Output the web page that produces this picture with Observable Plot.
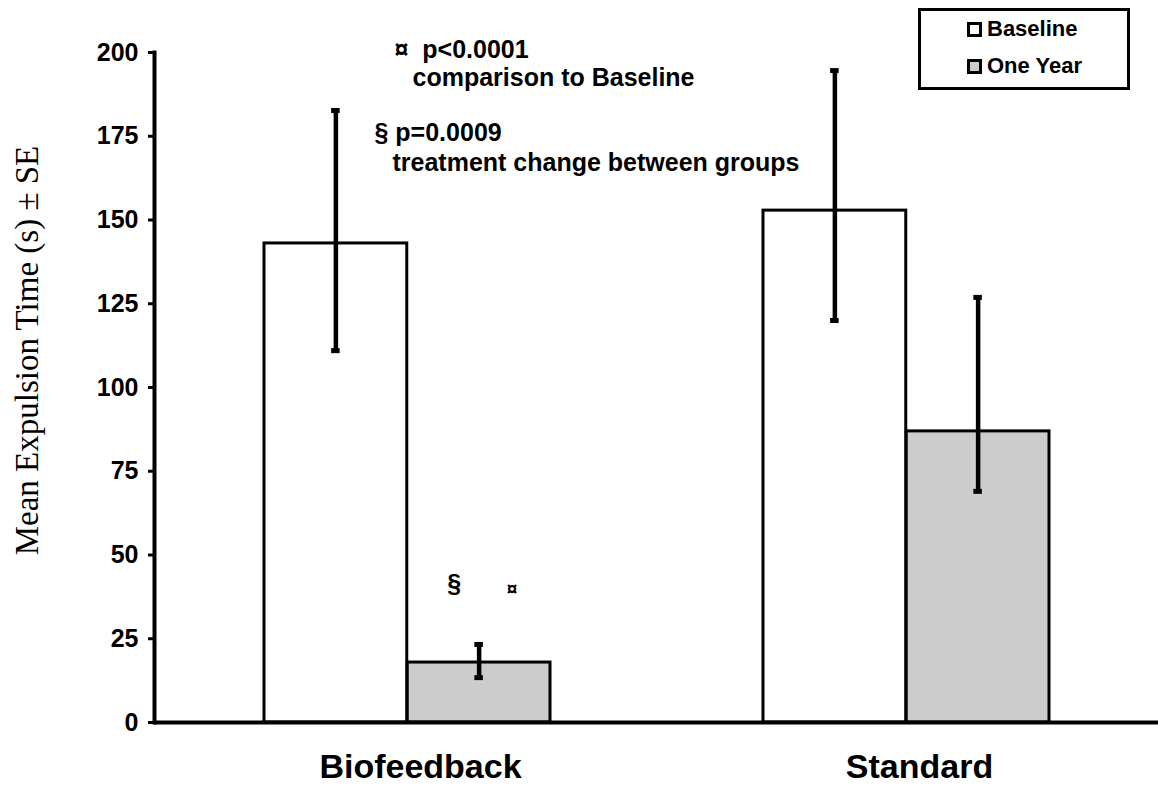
<!DOCTYPE html>
<html>
<head>
<meta charset="utf-8">
<script src="https://cdn.jsdelivr.net/npm/d3@7"></script>
<script src="https://cdn.jsdelivr.net/npm/@observablehq/plot@0.6"></script>
<style>
  html, body { margin: 0; padding: 0; background: #fff; }
  #wrap { position: relative; width: 1158px; height: 786px; font-family: "Liberation Sans", Arial, sans-serif; }
  #legend { position: absolute; left: 918px; top: 8px; width: 212px; height: 82px; box-sizing: border-box; border: 3px solid #000; background: #fff; }
  .item { position: absolute; left: 46px; height: 24px; display: flex; align-items: center; font-weight: bold; font-size: 22px; color: #000; }
  .sw { width: 15px; height: 15px; box-sizing: border-box; border: 3px solid #000; margin-right: 5px; }
</style>
</head>
<body>
<div id="wrap">
  <div id="chart"></div>
  <div id="legend"></div>
</div>
<script>
// ---- data ----
const groups = ["Biofeedback", "Standard"];
const series = ["Baseline", "One Year"];
const baselineMean = [143.0, 152.8];
const baselineLo = [111.0, 120.0];
const baselineHi = [182.7, 194.6];
const oneYearMean = [17.9, 86.9];
const oneYearLo = [13.4, 69.0];
const oneYearHi = [23.3, 126.9];
const yTicks = [0, 25, 50, 75, 100, 125, 150, 175, 200];
const yLabel = "Mean Expulsion Time (s) \u00b1 SE";
const noteLines = ["\u00a4\u00a0 p<0.0001", "comparison to Baseline", "\u00a7 p=0.0009", "treatment change between groups"];
const sigMarks = ["\u00a7", "\u00a4"];
const seriesColors = ["#ffffff", "#cccccc"];

// ---- table ----
const rows = [];
groups.forEach((g, i) => {
  rows.push({group: g, series: series[0], value: baselineMean[i], lo: baselineLo[i], hi: baselineHi[i]});
  rows.push({group: g, series: series[1], value: oneYearMean[i], lo: oneYearLo[i], hi: oneYearHi[i]});
});
const base = rows.filter(d => d.series === series[0]);
const year = rows.filter(d => d.series === series[1]);

const W = 1158, H = 786;
const mL = 154, mR = 0, mT = 52, mB = 64;
const pIn = 0.427, pOut = 0.2176;
const bw = d3.scaleBand().domain(groups).range([mL, W - mR]).paddingInner(pIn).paddingOuter(pOut).bandwidth();
const half = bw / 2, q = bw / 4, capIn = (bw - 9) / 2;
const font = "'Liberation Sans', Arial, sans-serif";

const plot = Plot.plot({
  width: W, height: H,
  marginLeft: mL, marginRight: mR, marginTop: mT, marginBottom: mB,
  style: {fontFamily: font, fontWeight: "bold", color: "#000", background: "#fff", overflow: "visible"},
  x: {domain: groups, paddingInner: pIn, paddingOuter: pOut, label: null},
  y: {domain: [0, 200], label: null},
  marks: [
    Plot.barY(base, {x: "group", y: "value", fill: seriesColors[0], stroke: "#000", strokeWidth: 3, insetRight: half}),
    Plot.barY(year, {x: "group", y: "value", fill: seriesColors[1], stroke: "#000", strokeWidth: 3, insetLeft: half}),
    Plot.ruleX(base, {x: "group", y1: "lo", y2: "hi", dx: -q, stroke: "#000", strokeWidth: 4.5}),
    Plot.ruleX(year, {x: "group", y1: "lo", y2: "hi", dx: q, stroke: "#000", strokeWidth: 4.5}),
    Plot.tickY(base, {x: "group", y: "hi", dx: -q, insetLeft: capIn, insetRight: capIn, stroke: "#000", strokeWidth: 5}),
    Plot.tickY(base, {x: "group", y: "lo", dx: -q, insetLeft: capIn, insetRight: capIn, stroke: "#000", strokeWidth: 5}),
    Plot.tickY(year, {x: "group", y: "hi", dx: q, insetLeft: capIn, insetRight: capIn, stroke: "#000", strokeWidth: 5}),
    Plot.tickY(year, {x: "group", y: "lo", dx: q, insetLeft: capIn, insetRight: capIn, stroke: "#000", strokeWidth: 5}),
    Plot.ruleY([0], {stroke: "#000", strokeWidth: 4}),
    Plot.frame({anchor: "left", stroke: "#000", strokeWidth: 4}),
    Plot.axisY({ticks: yTicks, tickFormat: d => String(d), tickSize: 6, tickPadding: 10, strokeWidth: 3, fontSize: 25, fontWeight: "bold", label: null}),
    Plot.axisX({tickSize: 0, tickPadding: 31, dx: 13, fontSize: 34, fontWeight: "bold", label: null}),
    // significance symbols above the Biofeedback one-year bar
    Plot.text([year[0]], {x: "group", y: "hi", text: () => sigMarks[0], dx: q - 25, dy: -60, fontSize: 25, fontWeight: "bold", lineAnchor: "middle"}),
    Plot.text([year[0]], {x: "group", y: "hi", text: () => sigMarks[1], dx: q + 33, dy: -56, fontSize: 19, fontWeight: "bold", lineAnchor: "middle"}),
    // annotation lines
    Plot.text([noteLines[0]], {text: d => d, frameAnchor: "top-left", dx: 394 - mL, dy: 49 - mT, fontSize: 25, fontWeight: "bold", textAnchor: "start", lineAnchor: "middle"}),
    Plot.text([noteLines[1]], {text: d => d, frameAnchor: "top-left", dx: 412 - mL, dy: 77 - mT, fontSize: 25, fontWeight: "bold", textAnchor: "start", lineAnchor: "middle"}),
    Plot.text([noteLines[2]], {text: d => d, frameAnchor: "top-left", dx: 374 - mL, dy: 132 - mT, fontSize: 25, fontWeight: "bold", textAnchor: "start", lineAnchor: "middle"}),
    Plot.text([noteLines[3]], {text: d => d, frameAnchor: "top-left", dx: 392 - mL, dy: 162 - mT, fontSize: 25, fontWeight: "bold", textAnchor: "start", lineAnchor: "middle"}),
    // y-axis title
    Plot.text([yLabel], {text: d => d, frameAnchor: "left", rotate: -90, dx: 27 - mL, dy: -37, fontFamily: "'Liberation Serif', 'Times New Roman', serif", fontWeight: "normal", fontSize: 33, textAnchor: "middle", lineAnchor: "middle"})
  ]
});
document.getElementById("chart").appendChild(plot);

// legend
const legend = document.getElementById("legend");
series.forEach((s, i) => {
  const item = document.createElement("div");
  item.className = "item";
  item.style.top = (i === 0 ? 6 : 43) + "px";
  const sw = document.createElement("span");
  sw.className = "sw";
  sw.style.background = seriesColors[i];
  const t = document.createElement("span");
  t.textContent = s;
  item.appendChild(sw);
  item.appendChild(t);
  legend.appendChild(item);
});
</script>
</body>
</html>
